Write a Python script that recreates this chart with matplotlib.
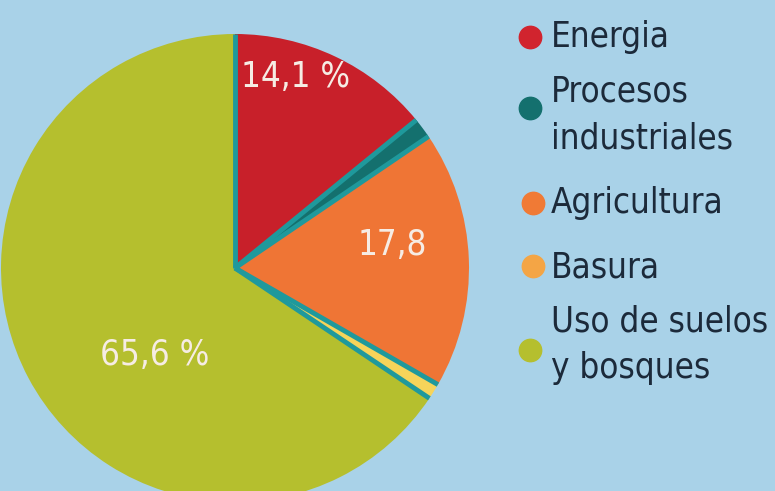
import numpy as np
import matplotlib.pyplot as plt

plt.rcParams['font.family'] = ['DejaVu Sans']

categories = ["Energia", "Procesos\nindustriales", "Agricultura", "Basura", "Uso de suelos\ny bosques"]
values = [14.1, 1.4, 17.8, 1.1, 65.6]
slice_labels = ["14,1 %", "", "17,8", "", "65,6 %"]
slice_colors = ["#c8202a", "#14706e", "#ef7535", "#f6d45a", "#b5bf2e"]
dot_colors = ["#d1242e", "#14706e", "#f07a35", "#f4a545", "#b5bf2e"]

bg = "#a9d2e8"
W, H = 775, 491
fig = plt.figure(figsize=(W / 100, H / 100), dpi=100, facecolor=bg)
ax = fig.add_axes([0, 0, 1, 1])
ax.set_facecolor(bg)

cx, cy, r = 235, H - 268, 234
ax.pie(values, colors=slice_colors, startangle=90, counterclock=False,
       center=(cx, cy), radius=r, wedgeprops=dict(linewidth=0))

# teal radial borders between slices
bounds = np.concatenate([[0], np.cumsum(values)])
for b in bounds[:-1]:
    ang = np.deg2rad(90 - 360 * b / 100)
    ax.plot([cx, cx + r * np.cos(ang)], [cy, cy + r * np.sin(ang)],
            color="#1f999c", lw=3.5, solid_capstyle='butt')

# value labels inside slices
label_pos = [(296, 77), None, (392, 245), None, (155, 355)]
for txt, pos in zip(slice_labels, label_pos):
    if pos:
        ax.text(pos[0], H - pos[1], txt, color="#f6ece4", fontsize=25,
                fontstretch='condensed', ha='center', va='center')

# legend
dot_pos = [(530, 37), (530, 108), (533, 203), (533, 266), (530, 350)]
text_pos = [(551, 37), (551, 115), (551, 203), (551, 268), (551, 345)]
for name, c, dp, tp in zip(categories, dot_colors, dot_pos, text_pos):
    ax.scatter(dp[0], H - dp[1], s=260, color=c, zorder=3)
    ax.text(tp[0], H - tp[1], name, color="#1c2a3a", fontsize=25,
            fontstretch='condensed', ha='left', va='center', linespacing=1.45)

ax.set_xlim(0, W)
ax.set_ylim(0, H)
ax.set_aspect('equal')
ax.axis('off')

fig.savefig("out.png", dpi=100, facecolor=bg)
